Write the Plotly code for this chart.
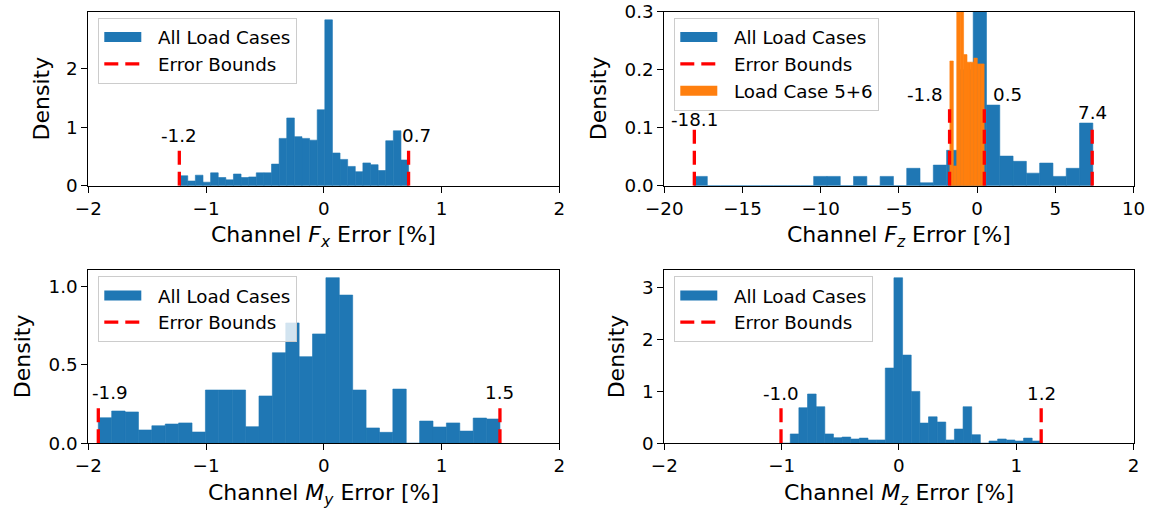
import numpy as np
import plotly.graph_objects as go

W, H = 1151, 508
BLUE = "#1f77b4"
ORANGE = "#ff7f0e"
RED = "#ff0000"
FONT = "DejaVu Sans"
FS = 18.3      # tick / legend / label font size
FS_TITLE = 22  # axis title font size
NB = "\u00a0\u00a0"  # gap between legend symbol and text

# ---------------- data ----------------
# histogram bin ranges (lo, hi) with equal bins, densities
fx_bin_range = (-1.22, 0.72)
fx_density = [0.17, 0.08, 0.18, 0.06, 0.22, 0.14, 0.10, 0.20, 0.14, 0.15,
              0.22, 0.22, 0.37, 0.81, 1.16, 0.84, 0.81, 0.78, 1.30, 2.84,
              0.56, 0.45, 0.33, 0.24, 0.39, 0.36, 0.26, 0.77, 0.94, 0.44]

fz_bin_range = (-18.1, 7.4)
fz_density = [0.016, 0, 0, 0, 0, 0, 0, 0, 0, 0.016,
              0.016, 0, 0.016, 0, 0.016, 0, 0.030, 0.005, 0.0355, 0.061,
              0.20, 0.32, 0.139, 0.051, 0.042, 0.0216, 0.039, 0.016, 0.030, 0.108]

lc56_bin_range = (-1.74, 0.45)
lc56_density = [0.215, 0.034, 1.5, 1.5, 0.226, 0.213, 0.213, 0.22, 0.21, 0.21]

my_bin_range = (-1.915, 1.496)
my_density = [0.163, 0.206, 0.20, 0.085, 0.112, 0.123, 0.13, 0.072, 0.34, 0.34,
              0.34, 0.106, 0.302, 0.578, 0.768, 0.553, 0.698, 1.057, 0.946, 0.34,
              0.098, 0.07, 0.346, 0.0, 0.142, 0.104, 0.13, 0.078, 0.161, 0.155]

mz_bin_range = (-1.0, 1.21)
mz_density = [0.0, 0.18, 0.686, 0.95, 0.705, 0.18, 0.108, 0.12, 0.083, 0.10,
              0.064, 0.064, 1.45, 3.19, 1.70, 1.0, 0.39, 0.51, 0.41, 0.064,
              0.275, 0.705, 0.166, 0.0, 0.044, 0.083, 0.064, 0.044, 0.10, 0.044]

fx_bounds = [-1.227, 0.72]
fz_bounds = [-18.08, -1.76, 0.46, 7.36]
my_bounds = [-1.915, 1.496]
mz_bounds = [-1.005, 1.213]

x_titles = ["Channel <i>F</i><sub><i>x</i></sub> Error [%]",
            "Channel <i>F</i><sub><i>z</i></sub> Error [%]",
            "Channel <i>M</i><sub><i>y</i></sub> Error [%]",
            "Channel <i>M</i><sub><i>z</i></sub> Error [%]"]
y_title = "Density"
legend_names = ["All Load Cases", "Error Bounds", "Load Case 5+6"]

x_tickvals = [[-2, -1, 0, 1, 2], [-20, -15, -10, -5, 0, 5, 10],
              [-2, -1, 0, 1, 2], [-2, -1, 0, 1, 2]]
y_tickvals = [[0, 1, 2], [0.0, 0.1, 0.2, 0.3], [0.0, 0.5, 1.0], [0, 1, 2, 3]]
y_tickfmt = ["d", ".1f", ".1f", "d"]

# ---------------- style / layout constants ----------------
x_ranges = [[-2, 2], [-20, 10], [-2, 2], [-2, 2]]
y_ranges = [[0, 2.98], [0, 0.3], [0, 1.106], [0, 3.34]]
# pixel boxes (left, right, top, bottom)
boxes = [(88.3, 559.3, 11.7, 185.7), (664.3, 1133.5, 11.7, 185.7),
         (88.3, 559.3, 270.0, 443.3), (664.3, 1133.5, 270.0, 443.3)]
# bound line tops (data units) and label placement
line_tops = [[0.61, 0.61], [0.1, 0.132, 0.132, 0.1], [0.232, 0.232], [0.70, 0.70]]
label_x = [[-1.227, 0.786], [-18.08, -3.35, 1.93, 7.36], [-1.818, 1.496], [-1.005, 1.213]]
label_y = [[0.865, 0.865], [0.1145, 0.1566, 0.1566, 0.1266], [0.323, 0.323], [0.963, 0.963]]
ytitle_px = [41.7, 598.5, 22.5, 616.7]

panels = [
    (fx_bin_range, fx_density, fx_bounds),
    (fz_bin_range, fz_density, fz_bounds),
    (my_bin_range, my_density, my_bounds),
    (mz_bin_range, mz_density, mz_bounds),
]


def hist_bar(rng, dens, color, xa, ya):
    edges = np.linspace(rng[0], rng[1], len(dens) + 1)
    centers = (edges[:-1] + edges[1:]) / 2
    widths = np.diff(edges)
    return go.Bar(x=centers, y=dens, width=widths,
                  marker=dict(color=color, line=dict(width=0.6, color=color)),
                  xaxis=xa, yaxis=ya, showlegend=False, hoverinfo="skip")


fig = go.Figure()
layout = dict(width=W, height=H, margin=dict(l=0, r=0, t=0, b=0, autoexpand=False), autosize=False,
              paper_bgcolor="white", plot_bgcolor="white", barmode="overlay",
              font=dict(family=FONT, size=FS, color="black"), annotations=[])

for i, (rng, dens, bounds) in enumerate(panels):
    suf = "" if i == 0 else str(i + 1)
    xa, ya = "x" + suf, "y" + suf
    leg = "legend" + suf
    fig.add_trace(hist_bar(rng, dens, BLUE, xa, ya))
    if i == 1:
        fig.add_trace(hist_bar(lc56_bin_range, lc56_density, ORANGE, xa, ya))
    # legend proxy for histogram
    fig.add_trace(go.Scatter(x=[None], y=[None], mode="lines", name=NB + legend_names[0],
                             line=dict(color=BLUE, width=12.7), xaxis=xa, yaxis=ya, legend=leg))
    for j, b in enumerate(bounds):
        fig.add_trace(go.Scatter(x=[b, b], y=[0, line_tops[i][j]], mode="lines",
                                 line=dict(color=RED, width=3.3, dash="14px,7px"),
                                 name=NB + legend_names[1], showlegend=(j == 0),
                                 xaxis=xa, yaxis=ya, legend=leg, hoverinfo="skip"))
        layout["annotations"].append(dict(x=label_x[i][j], y=label_y[i][j], xref=xa, yref=ya,
                                          text=f"{b:.1f}", showarrow=False, xanchor="center",
                                          yanchor="middle", font=dict(size=FS)))
    if i == 1:
        fig.add_trace(go.Scatter(x=[None], y=[None], mode="lines", name=NB + legend_names[2],
                                 line=dict(color=ORANGE, width=12.7), xaxis=xa, yaxis=ya, legend=leg))

    l, r, t, btm = boxes[i]
    axis_common = dict(showline=True, mirror=True, linecolor="black", linewidth=1.1,
                       ticks="outside", ticklen=6, tickwidth=1.1, tickcolor="black",
                       showgrid=False, zeroline=False, tickfont=dict(size=FS), automargin=False)
    layout["xaxis" + suf] = dict(domain=[l / W, r / W], range=x_ranges[i], anchor=ya,
                                 tickvals=x_tickvals[i], **axis_common)
    layout["yaxis" + suf] = dict(domain=[1 - btm / H, 1 - t / H], range=y_ranges[i], anchor=xa,
                                 tickvals=y_tickvals[i], tickformat=y_tickfmt[i], **axis_common)
    layout[leg] = dict(x=(l + 10) / W, y=1 - (t + 6) / H, xanchor="left", yanchor="top",
                       bgcolor="rgba(255,255,255,0.8)", bordercolor="#cccccc", borderwidth=1,
                       font=dict(size=FS), itemwidth=37, traceorder="normal")
    # axis titles
    layout["annotations"].append(dict(x=(l + r) / 2 / W, y=1 - (btm + 51) / H, xref="paper",
                                      yref="paper", text=x_titles[i], showarrow=False,
                                      xanchor="center", yanchor="middle", font=dict(size=FS_TITLE)))
    layout["annotations"].append(dict(x=ytitle_px[i] / W, y=1 - (t + btm) / 2 / H, xref="paper",
                                      yref="paper", text=y_title, showarrow=False, textangle=-90,
                                      xanchor="center", yanchor="middle", font=dict(size=FS_TITLE)))

fig.update_layout(**layout)
fig.write_html("out.html")
